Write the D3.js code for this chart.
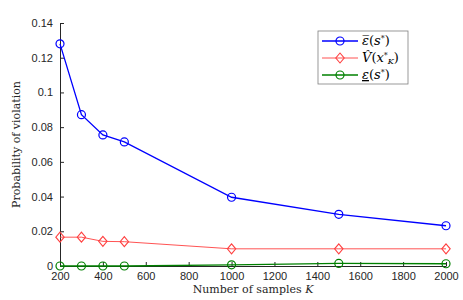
<!DOCTYPE html>
<html>
<head>
<meta charset="utf-8">
<script src="https://cdn.jsdelivr.net/npm/d3@7"></script>
<style>
  body { margin: 0; background: #fff; }
  .tick text { font-family: "Liberation Sans", Arial, sans-serif; font-size: 11px; fill: #262626; }
</style>
</head>
<body>
<div id="chart"></div>
<script>
// samples K
var samples = [200, 300, 400, 500, 1000, 1500, 2000]
// upper bound eps bar
var epsUpper = [0.128, 0.0872, 0.0755, 0.0715, 0.0396, 0.0298, 0.0232]
// empirical violation V hat
var vHat = [0.0166, 0.0166, 0.0142, 0.0140, 0.0099, 0.0099, 0.0099]
// lower bound eps underline
var epsLower = [0, 0, 0, 0, 0.0007, 0.0015, 0.0013]

var xTicks = [200, 400, 600, 800, 1000, 1200, 1400, 1600, 1800, 2000]
var yTicks = [0, 0.02, 0.04, 0.06, 0.08, 0.1, 0.12, 0.14]

var margin = {top: 23, right: 17, bottom: 34, left: 60},
    width = 463 - margin.left - margin.right,
    height = 300 - margin.top - margin.bottom;

var svg = d3.select("#chart")
  .append("svg")
  .attr("width", 463)
  .attr("height", 300)

var g = svg.append("g")
  .attr("transform", `translate(${margin.left},${margin.top})`)

var x = d3.scaleLinear().domain([200, 2000]).range([0, width])
var y = d3.scaleLinear().domain([0, 0.14]).range([height, 0])

// axes, ticks inside like matlab
g.append("g")
  .attr("transform", `translate(0,${height})`)
  .call(d3.axisBottom(x).tickValues(xTicks).tickSizeInner(-4).tickSizeOuter(0).tickPadding(6)
    .tickFormat(d3.format("d")))
g.append("g")
  .call(d3.axisLeft(y).tickValues(yTicks).tickSizeInner(-4).tickSizeOuter(0).tickPadding(7)
    .tickFormat(d => d3.format("~g")(d)))

g.selectAll(".domain").attr("stroke", "#262626")
g.selectAll(".tick line").attr("stroke", "#262626")

var lineFunc = d3.line()
  .x((d, i) => x(samples[i]))
  .y(d => y(d))

var series = [
  {vals: epsUpper, color: "#0000ff", marker: "circle", w: 1.3},
  {vals: vHat, color: "#ff4040", marker: "diamond", w: 0.9},
  {vals: epsLower, color: "#008000", marker: "circle", w: 1.3}
]

function drawMarker(sel, type, color, cx, cy) {
  if (type == "circle") {
    sel.append("circle").attr("cx", cx).attr("cy", cy).attr("r", 4)
      .attr("fill", "none").attr("stroke", color).attr("stroke-width", 1.2)
  } else {
    sel.append("path").attr("d", `M${cx},${cy-5}L${cx+4.2},${cy}L${cx},${cy+5}L${cx-4.2},${cy}Z`)
      .attr("fill", "none").attr("stroke", color).attr("stroke-width", 1.1)
  }
}

series.slice().reverse().forEach(s => {
  g.append("path")
    .attr("d", lineFunc(s.vals))
    .attr("stroke", s.color)
    .attr("stroke-width", s.w)
    .attr("fill", "none")
  s.vals.forEach((v, i) => drawMarker(g, s.marker, s.color, x(samples[i]), y(v)))
})

// axis labels
svg.append("text")
  .attr("x", margin.left + width / 2)
  .attr("y", 293)
  .attr("text-anchor", "middle")
  .style("font-family", "'DejaVu Serif', serif")
  .style("font-size", "11px")
  .attr("fill", "#262626")
  .html('Number of samples <tspan font-style="italic">K</tspan>')

svg.append("text")
  .attr("transform", `translate(20,${margin.top + height / 2}) rotate(-90)`)
  .attr("text-anchor", "middle")
  .style("font-family", "'DejaVu Serif', serif")
  .style("font-size", "11px")
  .attr("fill", "#262626")
  .text("Probability of violation")

// legend
var leg = svg.append("g").attr("transform", "translate(318,31)")
leg.append("rect").attr("width", 90).attr("height", 53)
  .attr("fill", "#fff").attr("stroke", "#7f7f7f").attr("stroke-width", 0.8)

var labels = [
  '<tspan font-style="italic">ε\u0305</tspan>(<tspan font-style="italic">s</tspan><tspan dy="-4" font-size="8px">*</tspan><tspan dy="4">)</tspan>',
  '<tspan font-style="italic">V\u0302</tspan>(<tspan font-style="italic">x</tspan><tspan dy="-4" font-size="8px">*</tspan><tspan dy="6" font-size="8px" font-style="italic">K</tspan><tspan dy="-2">)</tspan>',
  '<tspan font-style="italic" text-decoration="underline">ε</tspan>(<tspan font-style="italic">s</tspan><tspan dy="-4" font-size="8px">*</tspan><tspan dy="4">)</tspan>'
]
var rowY = [10, 27, 44]
series.forEach((s, i) => {
  leg.append("line").attr("x1", 4).attr("x2", 40).attr("y1", rowY[i]).attr("y2", rowY[i])
    .attr("stroke", s.color).attr("stroke-width", s.w)
  drawMarker(leg, s.marker, s.color, 22, rowY[i])
  leg.append("text")
    .attr("x", 44).attr("y", rowY[i] + 4)
    .style("font-family", "'DejaVu Serif', serif")
    .style("font-size", "13px")
    .attr("fill", "#000")
    .html(labels[i])
})
</script>
</body>
</html>
